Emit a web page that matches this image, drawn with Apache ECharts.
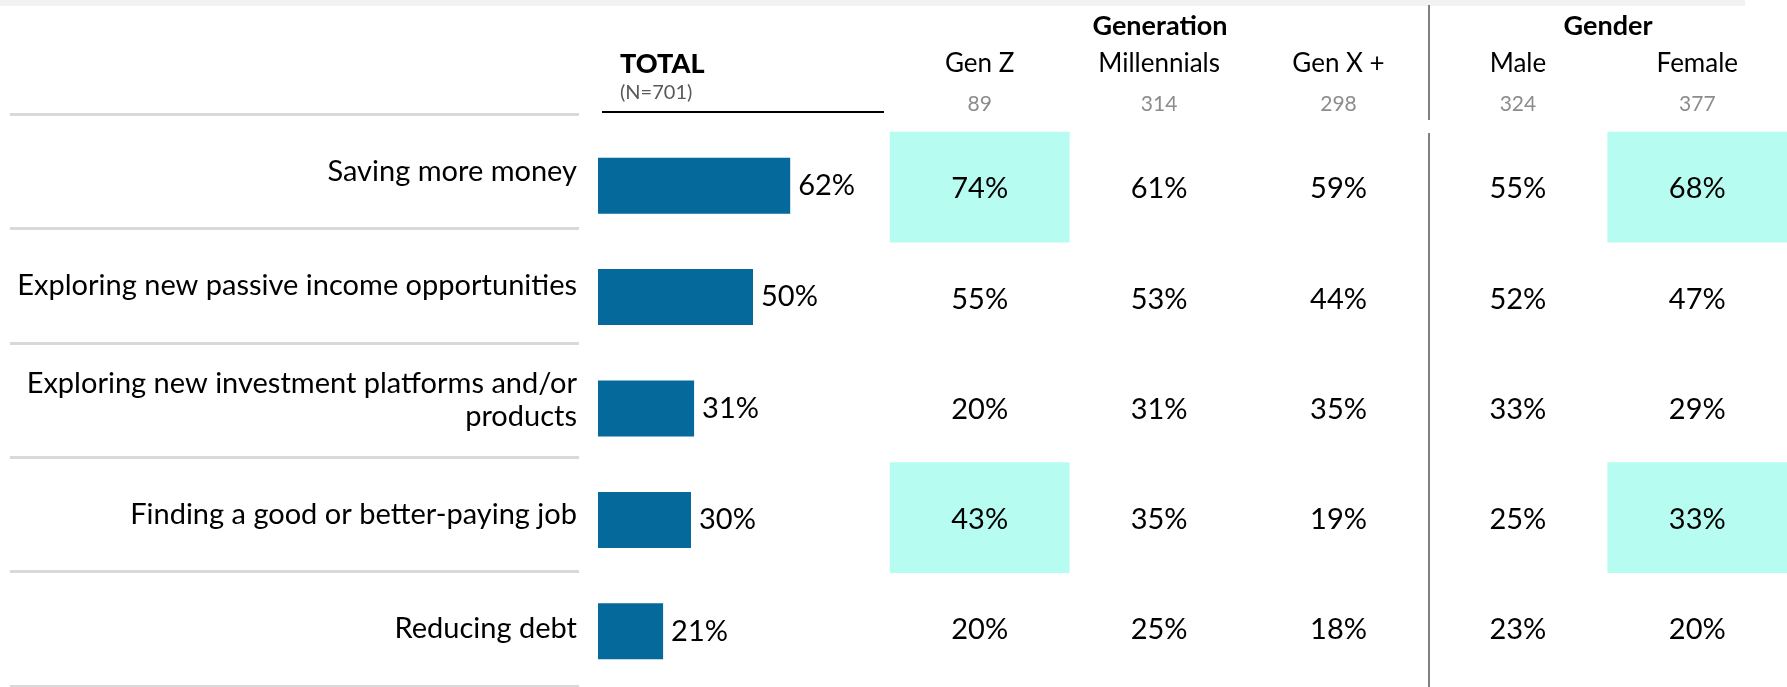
<!DOCTYPE html>
<html>
<head>
<meta charset="utf-8">
<script src="https://cdn.jsdelivr.net/npm/echarts@6/dist/echarts.min.js"></script>
<style>
  html, body { margin: 0; padding: 0; background: #fff; }
  #chart { width: 1787px; height: 687px; }
</style>
</head>
<body>
<div id="chart"></div>
<script>
// survey rows, top to bottom
const categories = [
  "Saving more money",
  "Exploring new passive income opportunities",
  "Exploring new investment platforms and/or\nproducts",
  "Finding a good or better-paying job",
  "Reducing debt",
];
const totalValues = [62, 50, 31, 30, 21];

const groups = ["Gen Z", "Millennials", "Gen X +", "Male", "Female"];
const groupCounts = [89, 314, 298, 324, 377];
const genZ = [74, 55, 20, 43, 20];
const millennials = [61, 53, 31, 35, 25];
const genX = [59, 44, 35, 19, 18];
const male = [55, 52, 33, 25, 23];
const female = [68, 47, 29, 33, 20];
// [column, row] of the shaded cells
const highlighted = [[0, 0], [4, 0], [0, 3], [4, 3]];

const BLUE = "#05699c";
const CYAN = "#b7fcf1";
const FONT = "Lato";

const columns = [genZ, millennials, genX, male, female];
const cells = [];
columns.forEach((vals, c) => {
  vals.forEach((v, r) => {
    const hl = highlighted.some(([hc, hr]) => hc === c && hr === r);
    cells.push({ value: [c, r, v], itemStyle: { color: hl ? CYAN : "rgba(0,0,0,0)" } });
  });
});

const chart = echarts.init(document.getElementById("chart"));
chart.setOption({
  animation: false,
  backgroundColor: "#fff",
  textStyle: { fontFamily: FONT },
  grid: [
    { left: 10, top: 114, width: 569, height: 572, outerBoundsMode: "none" },
    { left: 598, top: 130, width: 310, height: 557, outerBoundsMode: "none" },
    { left: 890, top: 132, width: 897, height: 551, outerBoundsMode: "none" },
  ],
  xAxis: [
    { gridIndex: 0, type: "value", min: 0, max: 1, show: false },
    { gridIndex: 1, type: "value", min: 0, max: 100, show: false },
    {
      gridIndex: 2,
      type: "category",
      data: groups,
      position: "top",
      axisLine: { show: false },
      axisTick: { show: false },
      splitLine: { show: false },
      axisLabel: {
        interval: 0,
        margin: 8,
        formatter: (v, i) => `{n|${v}}\n{c|${groupCounts[i]}}`,
        rich: {
          n: { fontFamily: FONT, fontSize: 26, color: "#000", lineHeight: 40 },
          c: { fontFamily: FONT, fontSize: 21, color: "#8c8c8c", lineHeight: 40 },
        },
      },
    },
  ],
  yAxis: [
    {
      gridIndex: 0,
      type: "category",
      inverse: true,
      position: "left",
      offset: -569, // put the axis on the right edge, labels hang to its left
      data: categories,
      axisLine: { show: false },
      axisTick: { show: false },
      axisLabel: { interval: 0, margin: 2, fontSize: 29, color: "#000", lineHeight: 33 },
      splitLine: { show: true, interval: 0, lineStyle: { color: "#d9d9d9", width: 3 } },
    },
    { gridIndex: 1, type: "category", inverse: true, data: categories, show: false },
    { gridIndex: 2, type: "category", inverse: true, data: categories, show: false },
  ],
  graphic: [
    { type: "rect", shape: { x: 0, y: 0, width: 1745, height: 6 }, style: { fill: "#f2f2f2" } },
    { type: "line", shape: { x1: 1429, y1: 5, x2: 1429, y2: 120 }, style: { stroke: "#808080", lineWidth: 2 } },
    { type: "line", shape: { x1: 1429, y1: 133, x2: 1429, y2: 687 }, style: { stroke: "#808080", lineWidth: 2 } },
    { type: "line", shape: { x1: 602, y1: 112, x2: 884, y2: 112 }, style: { stroke: "#000", lineWidth: 2 } },
    { type: "text", x: 620, y: 64, style: { text: "TOTAL", font: `900 27px ${FONT}`, fill: "#000", align: "left", verticalAlign: "middle" } },
    { type: "text", x: 620, y: 93, style: { text: "(N=701)", font: `20px ${FONT}`, fill: "#595959", align: "left", verticalAlign: "middle" } },
    { type: "text", x: 1160, y: 26, style: { text: "Generation", font: `bold 27px ${FONT}`, fill: "#000", align: "center", verticalAlign: "middle" } },
    { type: "text", x: 1608, y: 26, style: { text: "Gender", font: `bold 27px ${FONT}`, fill: "#000", align: "center", verticalAlign: "middle" } },
  ],
  series: [
    {
      type: "bar",
      xAxisIndex: 1,
      yAxisIndex: 1,
      data: totalValues,
      barWidth: 56,
      itemStyle: { color: BLUE },
      label: {
        show: true,
        position: "right",
        distance: 8,
        formatter: "{c}%",
        fontSize: 29,
        color: "#000",
      },
    },
    {
      type: "heatmap",
      xAxisIndex: 2,
      yAxisIndex: 2,
      data: cells,
      label: {
        show: true,
        offset: [0, 2],
        formatter: (p) => p.value[2] + "%",
        fontSize: 29,
        color: "#000",
      },
      emphasis: { disabled: true },
    },
  ],
});
</script>
</body>
</html>
